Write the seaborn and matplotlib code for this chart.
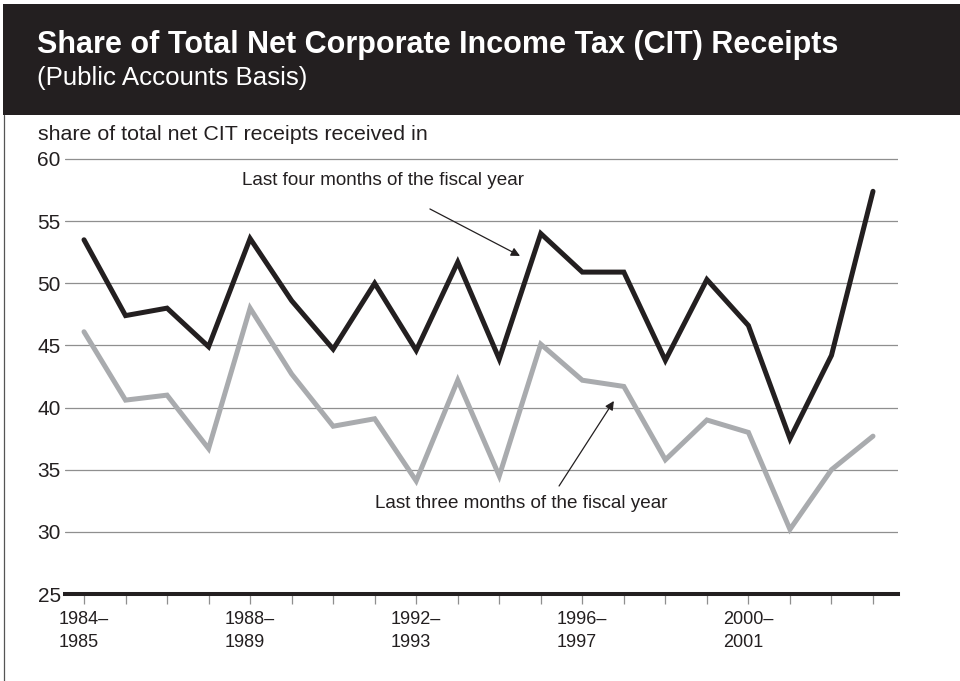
import matplotlib
matplotlib.use("Agg")
import matplotlib.pyplot as plt
import seaborn as sns
import pandas as pd
from matplotlib.patches import Rectangle
from matplotlib.lines import Line2D

# ---- data ----
fiscal_years = ["1984–1985", "1985–1986", "1986–1987", "1987–1988", "1988–1989",
                "1989–1990", "1990–1991", "1991–1992", "1992–1993", "1993–1994",
                "1994–1995", "1995–1996", "1996–1997", "1997–1998", "1998–1999",
                "1999–2000", "2000–2001", "2001–2002", "2002–2003", "2003–2004"]
tick_labels = ["1984–\n1985", "", "", "", "1988–\n1989", "", "", "", "1992–\n1993", "",
               "", "", "1996–\n1997", "", "", "", "2000–\n2001", "", "", ""]
last_four_months = [53.5, 47.4, 48.0, 44.9, 53.6, 48.6, 44.7, 50.0, 44.6, 51.7,
                    43.9, 54.0, 50.9, 50.9, 43.8, 50.3, 46.6, 37.5, 44.2, 57.4]
last_three_months = [46.1, 40.6, 41.0, 36.7, 48.0, 42.7, 38.5, 39.1, 34.1, 42.2,
                     34.5, 45.1, 42.2, 41.7, 35.8, 39.0, 38.0, 30.2, 35.0, 37.7]
y_ticks = [25, 30, 35, 40, 45, 50, 55, 60]

df = pd.DataFrame({
    "idx": list(range(len(fiscal_years))),
    "year": fiscal_years,
    "four": last_four_months,
    "three": last_three_months,
})

sns.set_style("white")
plt.rcParams["font.family"] = ["Liberation Sans", "DejaVu Sans"]

W, H = 960, 681
fig = plt.figure(figsize=(W / 100, H / 100), dpi=100)
fig.patch.set_facecolor("white")

DARK = "#231f20"
GRAY = "#a9abae"

# header band
fig.patches.append(Rectangle((3 / W, 1 - 115 / H), 1 - 3 / W, 111 / H,
                             transform=fig.transFigure, facecolor=DARK,
                             edgecolor="none", zorder=0))
# left border line
fig.add_artist(Line2D([3.5 / W, 3.5 / W], [0, 1 - 115 / H], transform=fig.transFigure,
                      color="#555555", lw=0.9))

fig.text(37 / W, 1 - 53 / H, "Share of Total Net Corporate Income Tax (CIT) Receipts",
         color="white", fontsize=22, fontweight="bold",
         va="baseline", ha="left")
fig.text(37 / W, 1 - 85 / H, "(Public Accounts Basis)", color="white", fontsize=18.6,
         va="baseline", ha="left")
fig.text(38 / W, 1 - 140 / H, "share of total net CIT receipts received in",
         color=DARK, fontsize=15.4, va="baseline", ha="left")

# axes
px_per_unit = (594 - 159) / 35.0
ytop = 61
top_px = 159 - (ytop - 60) * px_per_unit
ax = fig.add_axes([65 / W, 1 - 594 / H, 833 / W, (594 - top_px) / H])
ax.set_facecolor("none")

sns.lineplot(data=df, x="idx", y="three", ax=ax, color=GRAY, lw=3.6,
             solid_joinstyle="miter", zorder=3)
sns.lineplot(data=df, x="idx", y="four", ax=ax, color=DARK, lw=3.6,
             solid_joinstyle="miter", zorder=4)

spacing = (873 - 84) / 19.0
ax.set_xlim(-(84 - 65) / spacing, 19 + (898 - 873) / spacing)
ax.set_ylim(25, ytop)
ax.set_yticks(y_ticks)
ax.set_yticklabels([str(v) for v in y_ticks])
ax.set_xticks(df["idx"])
ax.set_xticklabels(tick_labels, ha="center", multialignment="left", linespacing=1.45)
ax.set_xlabel("")
ax.set_ylabel("")

for s in ["top", "right", "left"]:
    ax.spines[s].set_visible(False)
ax.spines["bottom"].set_color(DARK)
ax.spines["bottom"].set_linewidth(2.9)
ax.spines["bottom"].set_zorder(5)

ax.yaxis.grid(True, color="#8f8f8f", lw=0.9)
ax.xaxis.grid(False)
ax.set_axisbelow(True)
ax.tick_params(axis="y", length=0, pad=3, labelsize=15, labelcolor=DARK)
ax.tick_params(axis="x", direction="out", length=7.5, width=0.9, color="#8f8f8f",
               pad=5, labelsize=13, labelcolor=DARK, bottom=True)

# annotations
ax.text(7.21, 58.3, "Last four months of the fiscal year", fontsize=13.6, color=DARK,
        ha="center", va="center")
ax.annotate("", xy=(10.50, 52.2), xytext=(8.33, 55.98),
            arrowprops=dict(arrowstyle="-|>", color=DARK, lw=0.9, mutation_scale=13,
                            shrinkA=0, shrinkB=0))
ax.text(10.52, 32.3, "Last three months of the fiscal year", fontsize=13.6, color=DARK,
        ha="center", va="center")
ax.annotate("", xy=(12.76, 40.53), xytext=(11.44, 33.69),
            arrowprops=dict(arrowstyle="-|>", color=DARK, lw=0.9, mutation_scale=13,
                            shrinkA=0, shrinkB=0))

fig.savefig("out.png", dpi=100)
